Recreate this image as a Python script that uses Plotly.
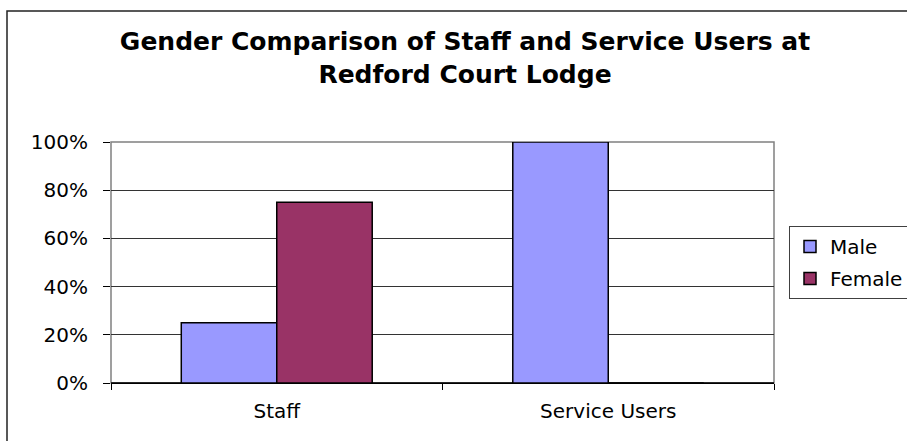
import plotly.graph_objects as go

categories = ["Staff", "Service Users"]
male = [0.25, 1.00]
female = [0.75, 0.0]
series_names = ["Male", "Female"]
colors = ["#9999FF", "#993366"]

FONT = "DejaVu Sans"

fig = go.Figure()
for name, vals, col in zip(series_names, [male, female], colors):
    fig.add_trace(go.Bar(
        x=categories, y=vals, name=name, legendgroup=name,
        marker=dict(color=col, line=dict(color="black", width=1.5)),
    ))

fig.update_layout(
    width=907, height=441,
    margin=dict(l=111, r=133, t=142, b=58, autoexpand=False),
    paper_bgcolor="white", plot_bgcolor="white",
    barmode="group", bargap=0.424, bargroupgap=0,
    font=dict(family=FONT, size=20, color="black"),
    title=dict(
        text="<b>Gender Comparison of Staff and Service Users at<br>Redford Court Lodge</b>",
        font=dict(family=FONT, size=25, color="black"),
        x=465/907, xanchor="center", xref="container",
        y=1-50/441, yanchor="top", yref="container",
    ),
    legend=dict(
        x=(789-111)/663, xanchor="left", y=(383-226)/241, yanchor="top",
        bordercolor="#404040", borderwidth=1, bgcolor="white",
        font=dict(family=FONT, size=20, color="black"),
        traceorder="grouped", tracegroupgap=3, itemwidth=30,
        entrywidth=110, entrywidthmode="pixels",
    ),
    showlegend=True,
)
fig.update_xaxes(
    showline=True, linecolor="black", linewidth=1,
    ticks="outside", tickson="boundaries", ticklen=6, tickcolor="black",
    ticklabelstandoff=10, showgrid=False,
)
fig.update_yaxes(
    range=[0, 1], dtick=0.2, tickformat=".0%",
    showgrid=True, gridcolor="#333333", gridwidth=1, zeroline=False,
    showline=False, ticks="outside", ticklen=7, tickcolor="black",
    ticklabelstandoff=11,
)
# plot area frame (grey) and outer chart border
fig.add_shape(type="rect", xref="paper", yref="paper", x0=0, y0=0, x1=1, y1=1,
              line=dict(color="#808080", width=1.5), layer="between")
fig.add_shape(type="line", xref="paper", yref="paper", x0=0, y0=0, x1=1, y1=0,
              line=dict(color="black", width=1.5), layer="between")
fig.add_shape(type="rect", xref="paper", yref="paper",
              x0=(7-111)/663, y0=-0.3, x1=1.25, y1=(383-11)/241,
              line=dict(color="#222222", width=1.5), layer="below")

fig.write_html("out.html", config={"displayModeBar": False},
               post_script="document.body.style.margin='0px';")
